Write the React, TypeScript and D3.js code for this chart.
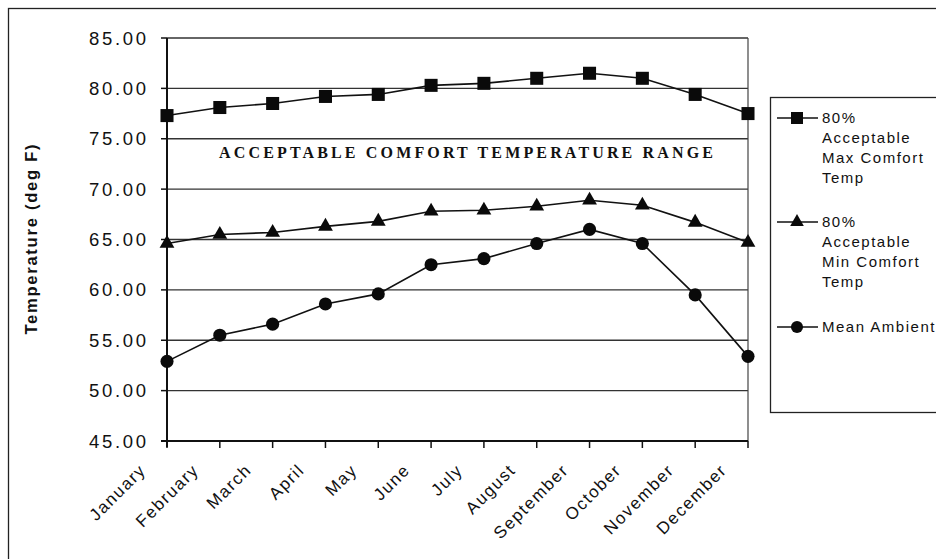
import React, { useEffect, useRef } from 'react'
import { select, scaleLinear, scalePoint, line, symbol, symbolSquare, symbolTriangle, symbolCircle } from 'd3'

const months = ['January', 'February', 'March', 'April', 'May', 'June', 'July', 'August', 'September', 'October', 'November', 'December']
const maxComfort = [77.3, 78.1, 78.5, 79.2, 79.4, 80.3, 80.5, 81.0, 81.5, 81.0, 79.4, 77.5]
const minComfort = [64.6, 65.5, 65.7, 66.3, 66.8, 67.8, 67.9, 68.3, 68.9, 68.4, 66.7, 64.7]
const meanAmbient = [52.9, 55.5, 56.6, 58.6, 59.6, 62.5, 63.1, 64.6, 66.0, 64.6, 59.5, 53.4]
const yTicks = [45, 50, 55, 60, 65, 70, 75, 80, 85]
const legendLabels = [
  ['80%', 'Acceptable', 'Max Comfort', 'Temp'],
  ['80%', 'Acceptable', 'Min Comfort', 'Temp'],
  ['Mean Ambient'],
]

function App() {
  const ref = useRef(null)

  useEffect(() => {
    const svg = select(ref.current)
    svg.selectAll('*').remove()

    const left = 167, right = 748, top = 38, bottom = 441
    const font = 'Liberation Sans, Arial, sans-serif'

    const x = scalePoint().domain(months).range([left, right])
    const y = scaleLinear().domain([45, 85]).range([bottom, top])

    // outer chart border
    svg.append('rect')
      .attr('x', 8.5).attr('y', 8.5)
      .attr('width', 960).attr('height', 600)
      .attr('fill', 'white').attr('stroke', '#222').attr('stroke-width', 1.3)

    // gridlines
    svg.selectAll('.grid')
      .data(yTicks)
      .enter()
      .append('line')
      .attr('x1', left).attr('x2', right)
      .attr('y1', d => y(d)).attr('y2', d => y(d))
      .style('stroke', '#333').style('stroke-width', 1.4)

    // plot border right side
    svg.append('line')
      .attr('x1', right).attr('x2', right).attr('y1', top).attr('y2', bottom)
      .style('stroke', '#444').style('stroke-width', 1.2)

    // axes
    svg.append('line')
      .attr('x1', left).attr('x2', left).attr('y1', top).attr('y2', bottom + 6)
      .style('stroke', '#111').style('stroke-width', 2)
    svg.append('line')
      .attr('x1', left - 6).attr('x2', right).attr('y1', bottom).attr('y2', bottom)
      .style('stroke', '#111').style('stroke-width', 2)

    svg.selectAll('.ytick')
      .data(yTicks)
      .enter()
      .append('line')
      .attr('x1', left - 6).attr('x2', left)
      .attr('y1', d => y(d)).attr('y2', d => y(d))
      .style('stroke', '#111').style('stroke-width', 1.5)

    svg.selectAll('.ylabel')
      .data(yTicks)
      .enter()
      .append('text')
      .attr('x', left - 21)
      .attr('y', d => y(d) + 6.5)
      .attr('text-anchor', 'end')
      .attr('textLength', 57).attr('lengthAdjust', 'spacing')
      .style('font-family', font).style('font-size', '18.5px')
      .style('fill', '#111')
      .text(d => d.toFixed(2))

    svg.selectAll('.xtick')
      .data(months)
      .enter()
      .append('line')
      .attr('x1', d => x(d)).attr('x2', d => x(d))
      .attr('y1', bottom).attr('y2', bottom + 7)
      .style('stroke', '#111').style('stroke-width', 1.5)

    svg.selectAll('.xlabel')
      .data(months)
      .enter()
      .append('text')
      .attr('transform', d => `translate(${x(d) - 20}, ${bottom + 30}) rotate(-45)`)
      .attr('text-anchor', 'end')
      .style('font-family', font).style('font-size', '17px').style('letter-spacing', '1.6px')
      .style('fill', '#111')
      .text(d => d)

    // y axis title
    svg.append('text')
      .attr('transform', `translate(37, ${(top + bottom) / 2}) rotate(-90)`)
      .attr('text-anchor', 'middle')
      .attr('textLength', 190).attr('lengthAdjust', 'spacing')
      .style('font-family', font).style('font-size', '16.5px').style('font-weight', 'bold')
      .style('fill', '#111')
      .text('Temperature (deg F)')

    // annotation
    svg.append('text')
      .attr('x', 219).attr('y', 158)
      .attr('textLength', 494).attr('lengthAdjust', 'spacing')
      .style('font-family', 'Liberation Serif, Times New Roman, serif')
      .style('font-size', '16px').style('font-weight', 'bold')
      .style('fill', '#111')
      .text('ACCEPTABLE  COMFORT TEMPERATURE  RANGE')

    const series = [
      { values: maxComfort, shape: symbolSquare, size: 170 },
      { values: minComfort, shape: symbolTriangle, size: 95 },
      { values: meanAmbient, shape: symbolCircle, size: 135 },
    ]

    const path = line<number>()
      .x((d, i) => x(months[i]))
      .y(d => y(d))

    series.forEach(s => {
      svg.append('path')
        .attr('d', path(s.values))
        .style('fill', 'none')
        .style('stroke', '#111')
        .style('stroke-width', 1.6)

      svg.selectAll(null)
        .data(s.values)
        .enter()
        .append('path')
        .attr('transform', (d, i) => `translate(${x(months[i])}, ${y(d)})`)
        .attr('d', symbol().type(s.shape).size(s.size))
        .style('fill', '#0a0a0a')
    })

    // legend
    svg.append('rect')
      .attr('x', 770.5).attr('y', 97.5)
      .attr('width', 200).attr('height', 315)
      .attr('fill', 'white').attr('stroke', '#222').attr('stroke-width', 1.3)

    const entryY = [118, 222, 327]
    series.forEach((s, k) => {
      const ly = entryY[k]
      svg.append('line')
        .attr('x1', 777).attr('x2', 818).attr('y1', ly).attr('y2', ly)
        .style('stroke', '#111').style('stroke-width', 1.5)
      svg.append('path')
        .attr('transform', `translate(797, ${ly})`)
        .attr('d', symbol().type(s.shape).size(s.size * 0.85))
        .style('fill', '#0a0a0a')
      legendLabels[k].forEach((t, j) => {
        svg.append('text')
          .attr('x', 822).attr('y', ly + 5 + j * 20)
          .style('font-family', font).style('font-size', '15px').style('letter-spacing', '1.5px')
          .style('fill', '#111')
          .text(t)
      })
    })
  }, [])

  return (
    <svg ref={ref} width={936} height={559} style={{ position: 'absolute', left: 0, top: 0, background: 'white' }}></svg>
  )
}

export default App
